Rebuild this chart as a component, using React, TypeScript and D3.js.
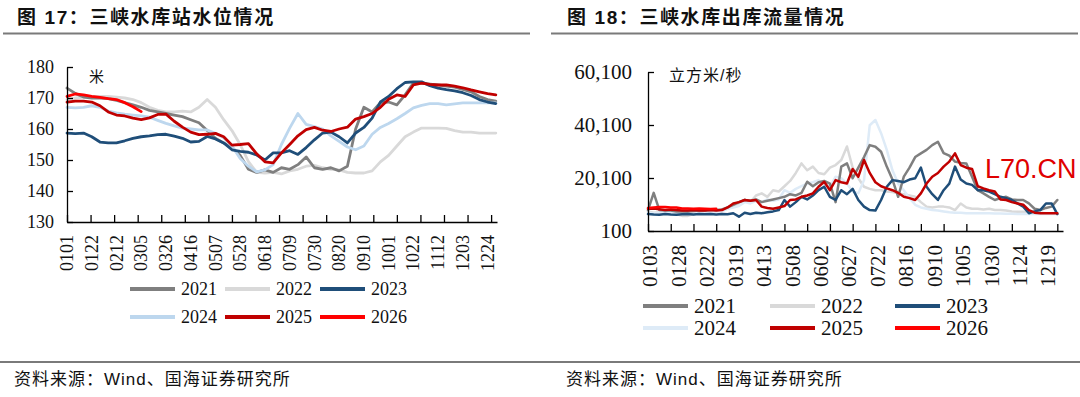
import { useEffect, useRef } from 'react';
import * as d3 from 'd3';

// ── Canvas ──
const W = 1080;
const H = 397;

const YEARS = ['2021', '2022', '2023', '2024', '2025', '2026'];

// ── Fig 17: water level (m), one sample every 7 days from 0101 ──
const LEVEL_STEP = 7;
const LEVEL_2021 = [
  173.2, 171.5, 170.3, 170, 170, 169.8, 169.2, 168.5, 167.8, 167,
  166, 165.5, 165, 164.5, 164, 163, 162, 159.5, 157, 155.5,
  154, 151.5, 147, 146, 146.8, 146, 147.5, 147, 148.5, 151,
  147.5, 147, 147.5, 146.5, 148, 160, 167, 165.5, 168.5, 168.7,
  167.8, 171, 174.8, 174.8, 174.5, 174.2, 173.8, 173.5, 172.8, 172,
  170.5, 169.5, 169,
];
const LEVEL_2022 = [
  169.5, 170, 170.3, 170.5, 170.5, 170.5, 170.3, 170, 169.5, 168.5,
  167, 166, 165.5, 165.5, 165.8, 165.5, 167, 169.5, 167, 163,
  159.5, 155, 149.5, 146, 145.8, 146, 145.5, 146.5, 147, 148,
  148.3, 147.5, 147, 146.8, 146, 145.8, 145.8, 146.5, 149.4, 151.5,
  154.5, 157.5, 159, 160.3, 160.3, 160.3, 160.2, 159.5, 159, 159,
  158.7, 158.7, 158.7,
];
const LEVEL_2023 = [
  158.7, 158.5, 158.7, 157.5, 155.8, 155.5, 155.5, 156.2, 157, 157.5,
  157.8, 158.2, 158.3, 157.7, 157, 155.8, 156, 157.6, 156.8, 155.5,
  153.3, 152.8, 152.5, 151.6, 150, 152.3, 152.3, 153, 151.8, 154,
  156.5, 158.7, 159, 157.5, 155.5, 158.7, 160.5, 163.5, 168.7, 170.5,
  173, 175, 175.2, 175.2, 174, 173.2, 172.7, 172.3, 171.7, 170.8,
  169.5, 168.7, 168.2,
];
const LEVEL_2024 = [
  167, 166.8, 167, 167.5, 167, 165.8, 165.2, 164.8, 164.5, 164.2,
  163.8, 162.8, 161.8, 161, 160.3, 160, 159.7, 159.7, 158.6, 157.2,
  154.5, 150.5, 148, 146.2, 146.8, 148.5, 155, 160.3, 165, 161.5,
  160.8, 160, 157.8, 156, 154.2, 153.3, 154.5, 158.3, 160.5, 161.8,
  163.3, 165, 166.8, 167.6, 168.2, 168.2, 167.8, 168.1, 168.4, 168.4,
  168.4, 168.4, 168.4,
];
const LEVEL_2025 = [
  168.7, 169, 169, 168.7, 167.5, 165.5, 164.5, 164.2, 163.5, 163,
  163.6, 164.7, 164.8, 162.5, 160.6, 159, 158.2, 158.3, 158.6, 157.5,
  154.8, 155, 155.3, 152, 149.4, 149.1, 152.3, 155, 157.8, 159.8,
  160.5, 159.6, 159.2, 160, 160.6, 163.2, 164, 165, 167, 169.6,
  171, 170.5, 174.2, 174.8, 174.4, 174.2, 174.2, 173.8, 173.3, 172.6,
  172, 171.4, 171,
];
const LEVEL_2026 = [170.5, 171.3, 171, 170.5, 170.2, 169.8, 169.5, 168.5, 167.2, 165.6];

const LEVEL_Y_TICKS = [130, 140, 150, 160, 170, 180];
const LEVEL_TICK_LABELS = [
  '0101', '0122', '0212', '0305', '0326', '0416', '0507', '0528', '0618',
  '0709', '0730', '0820', '0910', '1001', '1022', '1112', '1203', '1224',
];

// ── Fig 18: outflow (m3/s), one sample every 5 days from 0101 ──
const FLOW_STEP = 5;
const FLOW_2021 = [
  8000, 14500, 8000, 7800, 7800, 7500, 7500, 7500, 7600, 7800,
  7800, 8000, 8000, 8200, 9000, 10000, 11000, 11800, 11500, 12000,
  11000, 11500, 12000, 12500, 13000, 14000, 13500, 14500, 18700, 17000,
  18500, 19000, 18000, 11000, 24400, 25600, 20000, 24000, 28000, 32500,
  31900, 30000, 24400, 19500, 13000, 20600, 24000, 28000, 29400, 30700,
  32500, 33800, 29500, 28500, 26300, 25800, 25600, 20600, 15500, 14300,
  13000, 11800, 12500, 13000, 12000, 11800, 11800, 10500, 8500, 8000,
  8800, 9300, 11800,
];
const FLOW_2022 = [
  7500, 7000, 7200, 7000, 6800, 6500, 5800, 5800, 6500, 7000,
  7200, 7000, 7500, 8000, 8500, 9500, 10500, 12000, 11000, 13500,
  14300, 13000, 15500, 15000, 17000, 19000, 22000, 25600, 23000, 24400,
  22000, 21500, 24000, 25000, 26900, 32000, 24000, 20000, 16800, 16000,
  15500, 15500, 15000, 14800, 14300, 14000, 13500, 13000, 11000, 9300,
  9000, 9300, 9300, 9000, 8000, 10500, 9000, 8500, 8500, 8200,
  8500, 8000, 8000, 7800, 7500, 7400, 7400, 7200, 7000, 7000,
  6800, 6800, 6800,
];
const FLOW_2023 = [
  6500, 6300, 6200, 6500, 6300, 6200, 6400, 6500, 6300, 6500,
  6400, 6500, 6300, 6500, 6400, 6800, 5500, 7000, 6500, 7000,
  6800, 7200, 7500, 8000, 11800, 9300, 11000, 13000, 12000, 13500,
  15500, 16800, 13000, 11800, 15500, 14000, 16000, 11800, 9300, 8000,
  7800, 11800, 16800, 19300, 19000, 18500, 19500, 20000, 24000, 16800,
  14000, 11800, 15500, 18000, 24400, 19500, 18000, 17500, 15500, 15500,
  15000, 14000, 13000, 12500, 11800, 10500, 9300, 6800, 7500, 8000,
  10500, 10500, 6500,
];
const FLOW_2024 = [
  7000, 6800, 7000, 7200, 7000, 6800, 7000, 7200, 7000, 7500,
  7000, 7200, 7500, 7500, 8500, 9000, 9500, 11000, 10500, 11500,
  11000, 12000, 11500, 12000, 15500, 14500, 16000, 17000, 18000, 18500,
  19300, 17500, 16800, 20600, 20000, 18000, 15000, 14300, 19300, 40000,
  42000, 37000, 30700, 23000, 18000, 15500, 12500, 10000, 9000, 8500,
  8000, 7800, 7500, 7200, 7000, 7000, 6800, 6800, 6800, 6800,
  6800, 6700, 6700, 6600, 6600, 6500, 6500, 6500, 6500, 6500,
  6500, 6500, 6500,
];
const FLOW_2025 = [
  8500, 8600, 8300, 8000, 8200, 8000, 7800, 7800, 8000, 7800,
  7800, 8000, 7800, 8000, 9000, 10500, 11000, 11800, 11500, 11800,
  9300, 8800, 8500, 9000, 9500, 11800, 12000, 13000, 13500, 14300,
  16800, 18700, 15500, 19300, 18500, 18000, 23500, 20600, 26900, 22000,
  18500, 17000, 16200, 15500, 14500, 13000, 12500, 11800, 14300, 18000,
  20600, 22000, 24400, 26300, 29400, 25000, 24000, 23500, 17000, 16200,
  15500, 15000, 12000, 11800, 11000, 10500, 10000, 8000, 7000, 6800,
  6800, 6800, 6800,
];
const FLOW_2026 = [8800, 9000, 9200, 9200, 9000, 9000, 8600, 8600, 8500, 8600, 8500, 8400, 8500];

const FLOW_Y_TICKS = [100, 20100, 40100, 60100];
const FLOW_TICK_LABELS = [
  '0103', '0128', '0222', '0319', '0413', '0508', '0602', '0627',
  '0722', '0816', '0910', '1005', '1030', '1124', '1219',
];

// ── Colours ──
const LEVEL_COLORS = ['#7f7f7f', '#d9d9d9', '#1f4e79', '#bdd7ee', '#c00000', '#ff0000'];
const FLOW_COLORS = ['#7f7f7f', '#d9d9d9', '#1f4e79', '#deebf7', '#c00000', '#ff0000'];

const SERIF = '"Liberation Serif", "Times New Roman", serif';
const CJK = '"Liberation Sans", "Noto Sans CJK SC", sans-serif';

// day-of-year for an "MMDD" label (1900 is not a leap year)
const parseMD = d3.timeParse('%m%d');
function dayOf(s: string): number {
  const dt = parseMD(s)!;
  return d3.timeDay.count(d3.timeYear(dt), dt);
}

interface Panel {
  left: number;
  right: number;
  top: number;
  bottom: number;
  yDomain: [number, number];
  yTicks: number[];
  yFormat: (v: number) => string;
  yPad: number;
  series: number[][];
  step: number;
  colors: string[];
  order: number[];
  lineWidth: number;
  tickLabels: string[];
  labelTop: number;
  fontSize: number;
  legendRows: number[];
  legendCols: number[];
}

type G = d3.Selection<SVGGElement, unknown, null, undefined>;

function drawPanel(g: G, p: Panel) {
  const x = d3.scaleLinear().domain([0, 365]).range([p.left, p.right]);
  const y = d3.scaleLinear().domain(p.yDomain).range([p.bottom, p.top]);

  // series
  const line = d3
    .line<number>()
    .x((_, i) => x(i * p.step))
    .y((v) => y(v));
  p.order.forEach((k) => {
    g.append('path')
      .attr('d', line(p.series[k]) || '')
      .attr('fill', 'none')
      .attr('stroke', p.colors[k])
      .attr('stroke-width', p.lineWidth)
      .attr('stroke-linejoin', 'round')
      .attr('stroke-linecap', 'round');
  });

  // y axis, ticks pointing inward
  const yAxis = g
    .append('g')
    .attr('transform', `translate(${p.left},0)`)
    .call(
      d3
        .axisLeft(y)
        .tickValues(p.yTicks)
        .tickFormat((v) => p.yFormat(v as number))
        .tickSizeInner(-6)
        .tickSizeOuter(0)
        .tickPadding(p.yPad),
    );
  yAxis.selectAll('path,line').attr('stroke', '#000').attr('stroke-width', 1.3);
  yAxis
    .selectAll('text')
    .attr('font-family', SERIF)
    .attr('font-size', p.fontSize)
    .attr('fill', '#111');

  // x axis: marks every 20 days, no labels
  const xAxis = g
    .append('g')
    .attr('transform', `translate(0,${p.bottom})`)
    .call(
      d3
        .axisBottom(x)
        .tickValues(d3.range(0, 366, 20))
        .tickFormat(() => '')
        .tickSizeInner(-7)
        .tickSizeOuter(0),
    );
  xAxis.selectAll('path,line').attr('stroke', '#000').attr('stroke-width', 1.3);

  // date labels, rotated
  g.selectAll('.xlab')
    .data(p.tickLabels)
    .enter()
    .append('text')
    .attr('class', 'xlab')
    .attr('transform', (s) => `translate(${x(dayOf(s))},${p.labelTop}) rotate(-90)`)
    .attr('text-anchor', 'end')
    .attr('dy', '0.34em')
    .attr('font-family', SERIF)
    .attr('font-size', p.fontSize)
    .attr('fill', '#111')
    .text((s) => s);

  // legend, 3 per row
  YEARS.forEach((yr, i) => {
    const cx = p.legendCols[i % 3];
    const cy = p.legendRows[Math.floor(i / 3)];
    g.append('line')
      .attr('x1', cx)
      .attr('x2', cx + 45)
      .attr('y1', cy)
      .attr('y2', cy)
      .attr('stroke', p.colors[i])
      .attr('stroke-width', 4);
    g.append('text')
      .attr('x', cx + 51)
      .attr('y', cy)
      .attr('dy', '0.34em')
      .attr('font-family', SERIF)
      .attr('font-size', p.fontSize)
      .attr('fill', '#111')
      .text(yr);
  });
}

export default function App() {
  const svgRef = useRef<SVGSVGElement>(null);

  useEffect(() => {
    const svgEl = svgRef.current;
    if (!svgEl) return;
    const svg = d3.select(svgEl);
    svg.selectAll('*').remove();

    svg.append('rect').attr('width', W).attr('height', H).attr('fill', '#fff');

    // titles + rules
    const titles: [number, string, number, number][] = [
      [17, '图 17：三峡水库站水位情况', 3, 530],
      [567, '图 18：三峡水库出库流量情况', 551, 1078],
    ];
    titles.forEach(([tx, t, r0, r1]) => {
      svg
        .append('text')
        .attr('x', tx)
        .attr('y', 24)
        .attr('font-family', CJK)
        .attr('font-weight', 700)
        .attr('font-size', 19)
        .attr('letter-spacing', 1.6)
        .attr('fill', '#111')
        .text(t);
      svg
        .append('line')
        .attr('x1', r0)
        .attr('x2', r1)
        .attr('y1', 33.5)
        .attr('y2', 33.5)
        .attr('stroke', '#7a7a7a')
        .attr('stroke-width', 2);
    });

    const left = svg.append('g');
    drawPanel(left, {
      left: 67,
      right: 497,
      top: 67,
      bottom: 222,
      yDomain: [130, 180],
      yTicks: LEVEL_Y_TICKS,
      yFormat: (v) => String(v),
      yPad: 13,
      series: [LEVEL_2021, LEVEL_2022, LEVEL_2023, LEVEL_2024, LEVEL_2025, LEVEL_2026],
      step: LEVEL_STEP,
      colors: LEVEL_COLORS,
      order: [1, 0, 3, 2, 4, 5],
      lineWidth: 2.8,
      tickLabels: LEVEL_TICK_LABELS,
      labelTop: 235,
      fontSize: 18,
      legendRows: [289, 317],
      legendCols: [130, 225, 320],
    });
    left
      .append('text')
      .attr('x', 89)
      .attr('y', 82)
      .attr('font-family', CJK)
      .attr('font-size', 15)
      .attr('fill', '#111')
      .text('米');

    const right = svg.append('g');
    drawPanel(right, {
      left: 648,
      right: 1063,
      top: 72,
      bottom: 231,
      yDomain: [100, 60100],
      yTicks: FLOW_Y_TICKS,
      yFormat: d3.format(','),
      yPad: 16,
      series: [FLOW_2021, FLOW_2022, FLOW_2023, FLOW_2024, FLOW_2025, FLOW_2026],
      step: FLOW_STEP,
      colors: FLOW_COLORS,
      order: [1, 3, 0, 2, 4, 5],
      lineWidth: 2.5,
      tickLabels: FLOW_TICK_LABELS,
      labelTop: 245,
      fontSize: 21,
      legendRows: [306, 328],
      legendCols: [643, 770, 895],
    });
    right
      .append('text')
      .attr('x', 669)
      .attr('y', 81)
      .attr('font-family', CJK)
      .attr('font-size', 16)
      .attr('letter-spacing', 1)
      .attr('fill', '#111')
      .text('立方米/秒');

    // watermark
    svg
      .append('text')
      .attr('x', 985)
      .attr('y', 178)
      .attr('font-family', '"Liberation Sans", Arial, sans-serif')
      .attr('font-size', 27)
      .attr('fill', '#e00000')
      .text('L70.CN');

    // source line
    svg
      .append('line')
      .attr('x1', 0)
      .attr('x2', W)
      .attr('y1', 362)
      .attr('y2', 362)
      .attr('stroke', '#7a7a7a')
      .attr('stroke-width', 2);
    [14, 566].forEach((sx) => {
      svg
        .append('text')
        .attr('x', sx)
        .attr('y', 385)
        .attr('font-family', CJK)
        .attr('font-size', 17)
        .attr('letter-spacing', 1)
        .attr('fill', '#111')
        .text('资料来源：Wind、国海证券研究所');
    });

    return () => {
      svg.selectAll('*').remove();
    };
  }, []);

  return (
    <svg
      ref={svgRef}
      width={W}
      height={H}
      style={{ position: 'absolute', left: 0, top: 0, display: 'block' }}
    />
  );
}
